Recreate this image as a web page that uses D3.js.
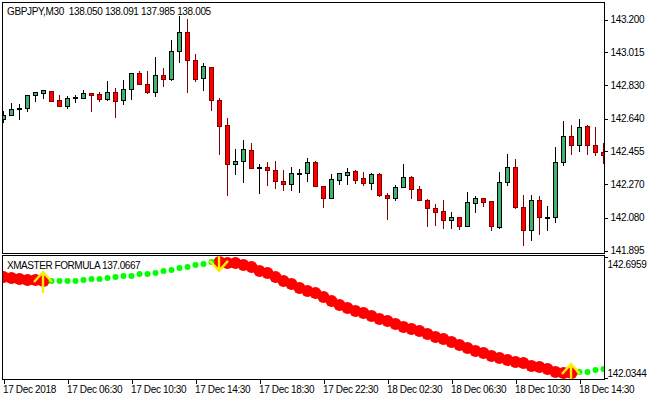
<!DOCTYPE html>
<html><head><meta charset="utf-8">
<script src="https://cdn.jsdelivr.net/npm/d3@7/dist/d3.min.js"></script>
<style>html,body{margin:0;padding:0;background:#fff}svg{display:block}text{font-family:"Liberation Sans",sans-serif;font-size:10px;letter-spacing:-0.35px;fill:#000}</style>
</head><body><div id="chart"></div>
<script>
const opens=[142.635,142.658,142.692,142.697,142.771,142.782,142.793,142.742,142.708,142.754,
142.754,142.782,142.776,142.748,142.788,142.742,142.805,142.895,142.833,142.788,
142.884,142.861,143.019,143.126,142.968,142.867,142.929,142.742,142.601,142.381,
142.398,142.460,142.358,142.364,142.347,142.285,142.268,142.324,142.330,142.392,
142.256,142.189,142.290,142.319,142.341,142.302,142.273,142.324,142.206,142.189,
142.251,142.307,142.239,142.177,142.132,142.115,142.064,142.081,142.031,142.160,
142.189,142.172,142.025,142.279,142.364,142.138,142.008,142.177,142.076,142.081,
142.392,142.539,142.488,142.595,142.488,142.449];
const highs=[142.686,142.731,142.725,142.776,142.793,142.805,142.799,142.776,142.771,142.776,
142.805,142.782,142.793,142.855,142.816,142.861,142.901,142.912,142.912,142.991,
142.929,143.087,143.223,143.206,143.008,142.957,142.934,142.759,142.646,142.471,
142.522,142.505,142.386,142.398,142.403,142.352,142.369,142.358,142.420,142.403,
142.262,142.330,142.330,142.364,142.352,142.341,142.336,142.336,142.223,142.268,
142.386,142.319,142.262,142.189,142.160,142.183,142.115,142.087,142.228,142.206,
142.194,142.172,142.341,142.443,142.415,142.211,142.211,142.206,142.149,142.482,
142.629,142.607,142.641,142.607,142.595,142.505];
const lows=[142.618,142.658,142.635,142.683,142.737,142.754,142.737,142.708,142.697,142.731,
142.754,142.680,142.737,142.745,142.646,142.720,142.748,142.833,142.782,142.765,
142.821,142.855,142.957,142.788,142.850,142.799,142.686,142.437,142.206,142.324,
142.279,142.358,142.217,142.262,142.245,142.234,142.234,142.223,142.285,142.256,
142.138,142.189,142.268,142.268,142.273,142.262,142.239,142.200,142.070,142.177,
142.251,142.189,142.177,142.031,142.036,142.019,142.019,142.013,142.031,142.110,
142.143,142.008,142.019,142.262,142.132,141.923,141.951,141.985,142.008,142.053,
142.375,142.437,142.454,142.437,142.432,142.386];
const closes=[142.658,142.692,142.697,142.773,142.788,142.799,142.737,142.708,142.754,142.759,
142.782,142.771,142.748,142.788,142.737,142.805,142.895,142.833,142.788,142.884,
142.861,143.019,143.126,142.968,142.861,142.934,142.742,142.595,142.381,142.398,
142.466,142.358,142.364,142.347,142.285,142.268,142.330,142.330,142.392,142.256,
142.189,142.296,142.330,142.336,142.290,142.273,142.324,142.206,142.189,142.251,
142.307,142.239,142.177,142.132,142.110,142.064,142.081,142.031,142.166,142.189,
142.166,142.031,142.279,142.364,142.138,142.008,142.177,142.081,142.081,142.392,
142.539,142.488,142.590,142.488,142.449,142.432];
const redLine=[142.587,142.581,142.576,142.570,142.570,142.565,null,null,null,null,
null,null,null,null,null,null,null,null,null,null,
null,null,null,null,null,null,null,142.669,142.663,142.663,
142.652,142.641,142.619,142.608,142.587,142.565,142.548,142.527,142.510,142.499,
142.477,142.455,142.434,142.417,142.401,142.390,142.373,142.357,142.346,142.330,
142.313,142.302,142.291,142.275,142.258,142.248,142.231,142.215,142.198,142.182,
142.171,142.155,142.144,142.133,142.122,142.116,142.100,142.095,142.084,142.067,
142.062,142.062,null,null,null,null];
const greenLine=[null,null,null,null,null,null,142.565,142.565,142.565,142.565,
142.570,142.576,142.576,142.581,142.587,142.592,142.592,142.603,142.603,142.608,
142.619,142.625,142.636,142.641,142.652,142.658,142.669,null,null,null,
null,null,null,null,null,null,null,null,null,null,
null,null,null,null,null,null,null,null,null,null,
null,null,null,null,null,null,null,null,null,null,
null,null,null,null,null,null,null,null,null,null,
null,null,142.067,142.067,142.078,142.084];
const upArrows=[5,71];
const downArrows=[27];
const priceTicks=[143.200,143.015,142.830,142.640,142.455,142.270,142.080,141.895];
const indTicks=[142.6959,142.0344];
const timeTickIndex=[0,8,16,24,32,40,48,56,64,72];
const timeLabels=["17 Dec 2018","17 Dec 06:30","17 Dec 10:30","17 Dec 14:30","17 Dec 18:30","17 Dec 22:30","18 Dec 02:30","18 Dec 06:30","18 Dec 10:30","18 Dec 14:30"];
const titleMain="GBPJPY,M30  138.050 138.091 137.985 138.005";
const titleInd="XMASTER FORMULA 137.0667";

const W=650,H=400,L=2.5,R=604.5,T1=2.5,B1=253.5,T2=255.5,B2=379.5;
const svg=d3.select("#chart").append("svg").attr("width",W).attr("height",H);
const x=d3.scaleLinear().domain([0,1]).range([3.5,11.5]);
const y=d3.scaleLinear().domain([141.895,143.2]).range([250,19]);
const yi=d3.scaleLinear().domain([142.0344,142.6959]).range([378,257]);
const px=v=>Math.round(v)+.5;

const defs=svg.append("defs");
defs.append("clipPath").attr("id","c1").append("rect").attr("x",L).attr("y",T1).attr("width",R-L).attr("height",B1-T1);
defs.append("clipPath").attr("id","c2").append("rect").attr("x",L).attr("y",T2).attr("width",R-L).attr("height",B2-T2);

const g1=svg.append("g").attr("clip-path","url(#c1)");
const candles=d3.range(opens.length);
const isUp=i=>closes[i]>=opens[i];
const edge=i=>isUp(i)?"#000":"#800000";
g1.selectAll("line.w").data(candles).join("line").attr("class","w")
 .attr("x1",i=>x(i)).attr("x2",i=>x(i)).attr("y1",i=>px(y(highs[i]))).attr("y2",i=>px(y(lows[i])))
 .attr("stroke",edge).attr("shape-rendering","crispEdges");
g1.selectAll("rect.b").data(candles).join("rect").attr("class","b")
 .attr("x",i=>x(i)-2).attr("width",4)
 .attr("y",i=>px(y(Math.max(opens[i],closes[i]))))
 .attr("height",i=>Math.max(1,px(y(Math.min(opens[i],closes[i])))-px(y(Math.max(opens[i],closes[i])))))
 .attr("fill",i=>isUp(i)?"#3CB371":"#FF0000").attr("stroke",edge).attr("shape-rendering","crispEdges");

const g2=svg.append("g").attr("clip-path","url(#c2)");
g2.selectAll("circle.r").data(candles.filter(i=>redLine[i]!=null)).join("circle").attr("class","r")
 .attr("cx",i=>x(i)).attr("cy",i=>yi(redLine[i])).attr("r",6).attr("fill","#FF0000");
g2.selectAll("circle.g").data(candles.filter(i=>greenLine[i]!=null)).join("circle").attr("class","g")
 .attr("cx",i=>x(i)).attr("cy",i=>yi(greenLine[i])).attr("r",3).attr("fill","#00FF00");
const lineVal=i=>redLine[i]!=null?redLine[i]:greenLine[i];
const arrow=(s,dir)=>s.attr("d",i=>{
  const cx=x(i)-.5, a=yi(lineVal(i))-dir*9;
  return `M${cx-9},${a+dir*10}L${cx},${a}L${cx+9},${a+dir*10}M${cx},${a}V${a+dir*21}`;
}).attr("fill","none").attr("stroke","#FFEE00").attr("stroke-width",2.4);
g2.selectAll("path.u").data(upArrows).join("path").attr("class","u").call(arrow,1);
g2.selectAll("path.d").data(downArrows).join("path").attr("class","d").call(arrow,-1);

const frame=(t,b)=>svg.append("rect").attr("x",L).attr("y",t).attr("width",R-L).attr("height",b-t)
 .attr("fill","none").attr("stroke","#000").attr("shape-rendering","crispEdges");
frame(T1,B1);frame(T2,B2);

const styleAxis=g=>{g.select(".domain").remove();g.selectAll("line").attr("stroke","#000").attr("shape-rendering","crispEdges");g.selectAll("text").style("font-family",'"Liberation Sans",sans-serif').style("font-size","10px").attr("fill","#000");};
svg.append("g").attr("transform",`translate(${R},0)`)
 .call(d3.axisRight(d3.scaleLinear().domain(y.domain()).range(y.range().map(v=>v+.5))).tickValues(priceTicks).tickSize(3).tickPadding(3).tickFormat(d3.format(".3f")))
 .call(styleAxis);
const ai=svg.append("g").attr("transform",`translate(${R},0)`)
 .call(d3.axisRight(yi).tickValues(indTicks).tickSize(3).tickPadding(0).tickFormat(d3.format(".4f")))
 .call(styleAxis);
ai.selectAll("text").attr("dy",d=>d>142.5?"1em":"-0.2em").attr("y",0);
svg.append("g").attr("transform",`translate(0,${B2})`)
 .call(d3.axisBottom(x).tickValues(timeTickIndex).tickSize(4).tickPadding(2).tickFormat((d,i)=>timeLabels[i]))
 .call(styleAxis)
 .selectAll("text").attr("text-anchor","start").attr("dx","-1");

svg.append("text").attr("x",7).attr("y",15).style("white-space","pre").text(titleMain);
svg.append("text").attr("x",7).attr("y",269).style("letter-spacing","-0.45px").text(titleInd);
</script></body></html>
